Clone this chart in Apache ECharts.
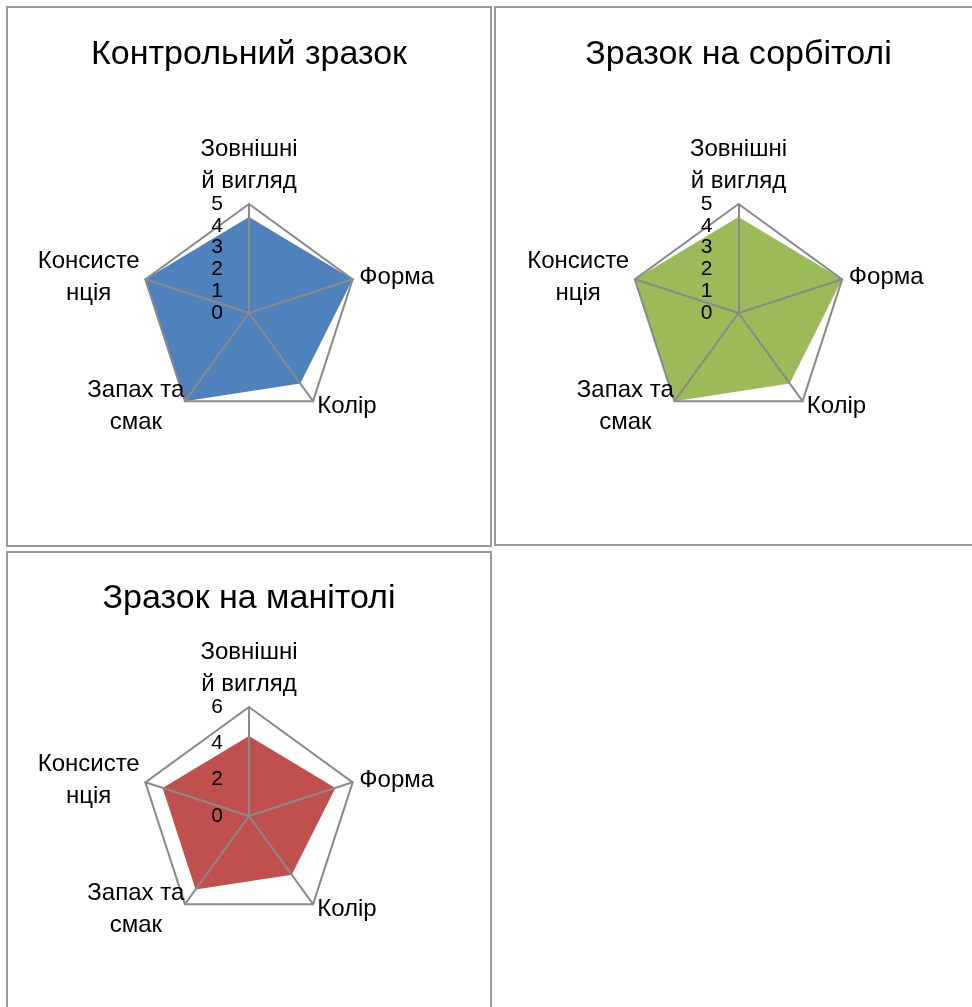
<!DOCTYPE html>
<html>
<head>
<meta charset="utf-8">
<script src="https://cdn.jsdelivr.net/npm/echarts@6/dist/echarts.min.js"></script>
<style>
html,body{margin:0;padding:0;background:#fff;}
#chart{width:972px;height:1007px;}
</style>
</head>
<body>
<div id="chart"></div>
<script>
// Categories in clockwise order starting from the top
const categories = ['Зовнішні\nй вигляд', 'Форма', 'Колір', 'Запах та\nсмак', 'Консисте\nнція'];
const titles = ['Контрольний зразок', 'Зразок на сорбітолі', 'Зразок на манітолі'];
const controlValues = [4.4, 5, 4, 5, 5];
const sorbitolValues = [4.4, 5, 4, 5, 5];
const mannitolValues = [4.4, 5, 4, 5, 5];
const axisMax = [5, 5, 6];
const axisStep = [1, 1, 2];
const colors = ['#4F81BD', '#9BBB59', '#C0504D'];

const FONT = '"Liberation Sans", Arial, sans-serif';
const GRID = '#8a8a8a';
const centers = [[249, 313], [738.5, 313], [249, 816]];
const radius = 109;
const titlePos = [[249, 55], [738.5, 55], [249, 599]];
const boxes = [[7, 7, 484, 539], [495, 7, 484, 538], [7, 552, 484, 470]];
const nameBoxWidths = [106, 0, 0, 90, 100];
const nameVAlign = ['bottom', null, null, 'middle', 'middle'];

// ECharts places indicators counterclockwise; reorder so display is clockwise
const order = [0, 4, 3, 2, 1];
const seriesValues = [controlValues, sorbitolValues, mannitolValues];

const richStyles = {};
categories.forEach((c, i) => {
  if (nameBoxWidths[i]) {
    richStyles['c' + i] = {
      width: nameBoxWidths[i], align: 'center', verticalAlign: nameVAlign[i],
      fontSize: 24, fontFamily: FONT, color: '#000', lineHeight: 32
    };
  }
});

const radars = [], series = [], graphics = [];
for (let k = 0; k < 3; k++) {
  const splits = axisMax[k] / axisStep[k];
  const ringColors = [];
  for (let i = 0; i <= splits; i++) ringColors.push(i === splits ? GRID : 'rgba(0,0,0,0)');
  radars.push({
    center: centers[k],
    radius: radius,
    startAngle: 90,
    shape: 'polygon',
    splitNumber: splits,
    z: 3,
    indicator: order.map((idx, j) => {
      const ind = { name: categories[idx], min: 0, max: axisMax[k] };
      if (j === 0) {
        ind.axisLabel = { show: true };
      }
      return ind;
    }),
    axisName: {
      color: '#000',
      fontSize: 24,
      fontFamily: FONT,
      lineHeight: 32,
      formatter: function (name) {
        const i = categories.indexOf(name);
        if (i >= 0 && nameBoxWidths[i]) {
          return name.split('\n').map(s => '{c' + i + '|' + s + '}').join('\n');
        }
        return name;
      },
      rich: richStyles
    },
    nameGap: 7,
    axisLine: { show: true, lineStyle: { color: GRID, width: 2 } },
    splitLine: { show: true, lineStyle: { color: ringColors, width: 2 } },
    splitArea: { show: false },
    axisTick: { show: false },
    axisLabel: {
      show: false,
      color: '#000',
      fontSize: 21,
      fontFamily: FONT,
      margin: 26,
      hideOverlap: false,
      showMinLabel: true,
      showMaxLabel: true
    }
  });
  series.push({
    type: 'radar',
    radarIndex: k,
    z: 2,
    symbol: 'none',
    lineStyle: { width: 0, color: colors[k] },
    areaStyle: { color: colors[k], opacity: 1 },
    data: [{ value: order.map(idx => seriesValues[k][idx]) }]
  });
  graphics.push({
    type: 'rect',
    shape: { x: boxes[k][0], y: boxes[k][1], width: boxes[k][2], height: boxes[k][3] },
    style: { fill: 'none', stroke: '#999999', lineWidth: 2 },
    z: 0
  });
  graphics.push({
    type: 'text',
    x: titlePos[k][0],
    y: titlePos[k][1],
    style: {
      text: titles[k],
      font: '34px ' + FONT,
      fill: '#000',
      align: 'center',
      verticalAlign: 'middle'
    },
    z: 10
  });
}

const chart = echarts.init(document.getElementById('chart'), null, { renderer: 'canvas' });
chart.setOption({
  backgroundColor: '#fff',
  animation: false,
  graphic: graphics,
  radar: radars,
  series: series
});
</script>
</body>
</html>
